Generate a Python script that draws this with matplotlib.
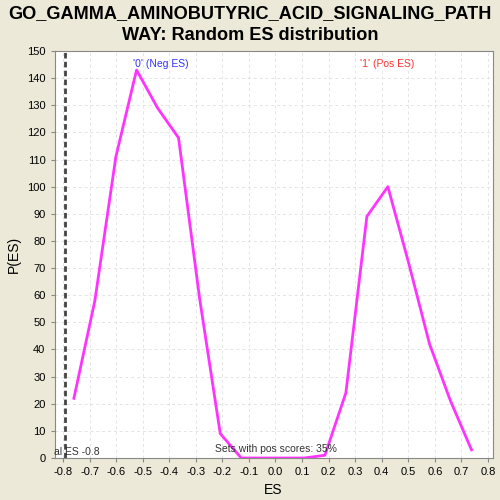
import matplotlib
matplotlib.use("Agg")
import matplotlib.pyplot as plt
import numpy as np

plt.rcParams['font.family'] = ['Liberation Sans', 'DejaVu Sans']

es = [-0.759, -0.680, -0.601, -0.523, -0.444, -0.365, -0.286, -0.208, -0.129,
      -0.050, 0.029, 0.108, 0.186, 0.265, 0.344, 0.423, 0.501, 0.580, 0.659, 0.738]
pes = [22, 58, 111, 143, 129, 118, 59, 9, 0, 0, 0, 0, 1, 24, 89, 100, 72, 42, 21, 3]
actual_es = -0.792
xticks = [-0.8, -0.7, -0.6, -0.5, -0.4, -0.3, -0.2, -0.1, 0.0, 0.1, 0.2, 0.3, 0.4, 0.5, 0.6, 0.7, 0.8]
yticks = list(range(0, 151, 10))

fig = plt.figure(figsize=(5, 5), dpi=100, facecolor='#ECE9D8')
ax = fig.add_axes([0.109, 0.084, 0.876, 0.814])
ax.set_facecolor('white')
ax.plot(es, pes, color='#FF33FF', lw=2)
ax.axvline(actual_es, color='#444444', lw=2, ls=(0, (2, 1.2)))
ax.set_xlim(-0.832, 0.817)
ax.set_ylim(0, 150)
ax.set_xticks(xticks)
ax.set_xticklabels([f"{t:.1f}" for t in xticks])
ax.set_yticks(yticks)
ax.tick_params(labelsize=8, length=3, color='#888888')
ax.grid(True, color='#E4E4E4', ls=(0, (3, 3)), lw=0.7)
for s in ax.spines.values():
    s.set_color('#888888')
ax.set_xlabel('ES', fontsize=10)
ax.set_ylabel('P(ES)', fontsize=10)
ax.text(-0.43, 147, "'0' (Neg ES)", color='#3333FF', fontsize=7.5, ha='center', va='top')
ax.text(0.42, 147, "'1' (Pos ES)", color='#FF3333', fontsize=7.5, ha='center', va='top')
ax.text(0.0, 1.5, "Sets with pos scores: 35%", color='#333333', fontsize=7.5, ha='center', va='bottom')
ax.text(-0.835, 0.5, "al ES -0.8", color='#333333', fontsize=7.5, ha='left', va='bottom')
fig.suptitle("GO_GAMMA_AMINOBUTYRIC_ACID_SIGNALING_PATH\nWAY: Random ES distribution",
             fontsize=13.1, fontweight='bold', y=0.99, linespacing=1.4)
fig.savefig('out.png', dpi=100, facecolor=fig.get_facecolor())
